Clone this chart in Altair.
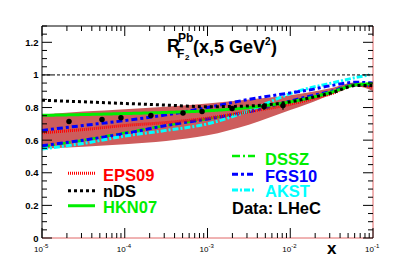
import altair as alt
import pandas as pd

# ---------------- data ----------------
X = [1e-5, 3.16e-5, 1e-4, 3.16e-4, 1e-3, 3.16e-3, 1e-2, 1.58e-2, 3.16e-2, 6.31e-2, 1e-1]
EPS09 = [0.645, 0.665, 0.690, 0.708, 0.735, 0.775, 0.820, 0.845, 0.885, 0.940, 0.925]
NDS = [0.845, 0.835, 0.825, 0.815, 0.805, 0.810, 0.835, 0.855, 0.890, 0.935, 0.935]
HKN07 = [0.752, 0.757, 0.763, 0.770, 0.780, 0.800, 0.835, 0.855, 0.895, 0.940, 0.945]
DSSZ = [0.560, 0.600, 0.645, 0.690, 0.730, 0.775, 0.830, 0.855, 0.890, 0.940, 0.945]
FGS10_L = [0.566, 0.600, 0.640, 0.690, 0.730, 0.775, 0.840, 0.865, 0.900, 0.940, 0.935]
FGS10_H = [0.660, 0.690, 0.720, 0.755, 0.800, 0.850, 0.890, 0.905, 0.935, 0.955, 0.950]
X_AKST = [1e-5, 3.16e-5, 1e-4, 3.16e-4, 1e-3, 3.16e-3, 1e-2, 1.58e-2, 3.16e-2, 6.31e-2, 9e-2]
AKST = [0.546, 0.580, 0.625, 0.660, 0.700, 0.780, 0.885, 0.915, 0.950, 0.985, 1.000]
BAND_LO = [0.548, 0.560, 0.575, 0.595, 0.630, 0.695, 0.785, 0.820, 0.880, 0.930, 0.900]
BAND_HI = [0.757, 0.775, 0.790, 0.805, 0.825, 0.850, 0.875, 0.890, 0.920, 0.955, 0.940]

PX = [2.12e-5, 5.31e-5, 9.0e-5, 2.07e-4, 5.06e-4, 8.59e-4, 1.98e-3, 4.82e-3, 8.17e-3]
PY = [0.714, 0.726, 0.738, 0.751, 0.766, 0.776, 0.794, 0.806, 0.812]
PERR = [0.006, 0.006, 0.007, 0.008, 0.010, 0.012, 0.015, 0.020, 0.025]

Y_TICKS = [0, 0.2, 0.4, 0.6, 0.8, 1, 1.2]
DECADES = [1e-5, 1e-4, 1e-3, 1e-2, 1e-1]
DEC_EXP = ["-5", "-4", "-3", "-2", "-1"]

W, H = 331, 212
FONT = "Liberation Sans"

xs = alt.Scale(type="log", domain=[1e-5, 1e-1], nice=False)
ys = alt.Scale(domain=[0, 1.3], nice=False, zero=False)
yaxis = alt.Axis(values=Y_TICKS, format="~g", labelFont=FONT, labelFontWeight="bold",
                 labelFontSize=9.5, labelColor="black", labelPadding=4, ticks=False,
                 tickSize=0, domain=False, grid=False, title="")


def xe(f):
    return alt.X(f + ":Q", scale=xs, axis=None)


def ye(f):
    return alt.Y(f + ":Q", scale=ys, axis=yaxis)


one = pd.DataFrame({"a": [0]})
layers = []

# band
band = pd.DataFrame({"x": X, "lo": BAND_LO, "hi": BAND_HI})
layers.append(alt.Chart(band).mark_area(color="#cd5c5c", interpolate="monotone").encode(
    x=xe("x"), y=ye("lo"), y2="hi:Q"))

series = [
    (X, DSSZ, "#00ee00", [8, 3, 2, 3], 2.5),
    (X, FGS10_L, "#0000ff", [6, 3, 3, 3], 3),
    (X_AKST, AKST, "#00ffff", [6, 2, 2, 2], 3),
    (X, FGS10_H, "#0000ff", [6, 3, 3, 3], 3),
    (X, EPS09, "#ff0000", [1, 1], 3),
    (X, HKN07, "#00ee00", [1, 0], 3),
    (X, NDS, "#000000", [3, 3], 3),
]
for xv, yv, col, dash, wdt in series:
    d = pd.DataFrame({"x": xv, "y": yv})
    layers.append(alt.Chart(d).mark_line(color=col, strokeDash=dash, strokeWidth=wdt,
                                         interpolate="monotone").encode(x=xe("x"), y=ye("y")))

# y = 1 dashed line
unity = pd.DataFrame({"x": [1e-5, 1e-1], "y": [1, 1]})
layers.append(alt.Chart(unity).mark_line(color="black", strokeDash=[3, 2], strokeWidth=1).encode(
    x=xe("x"), y=ye("y")))

# data points with error bars
pts = pd.DataFrame({"x": PX, "y": PY, "lo": [a - b for a, b in zip(PY, PERR)],
                    "hi": [a + b for a, b in zip(PY, PERR)]})
layers.append(alt.Chart(pts).mark_rule(color="black", strokeWidth=1.2).encode(
    x=xe("x"), y=ye("lo"), y2="hi:Q"))
layers.append(alt.Chart(pts).mark_point(filled=True, color="black", size=30, opacity=1).encode(
    x=xe("x"), y=ye("y")))

# frame
layers.append(alt.Chart(one).mark_rule(color="#e06666", strokeWidth=1).encode(
    x=alt.value(0), x2=alt.value(W), y=alt.value(H)))
layers.append(alt.Chart(one).mark_rule(color="#e06666", strokeWidth=1).encode(
    x=alt.value(W), y=alt.value(0), y2=alt.value(H)))
layers.append(alt.Chart(one).mark_rule(color="black", strokeWidth=1).encode(
    x=alt.value(0), y=alt.value(0), y2=alt.value(H)))
layers.append(alt.Chart(one).mark_rule(color="black", strokeWidth=1).encode(
    x=alt.value(0), x2=alt.value(W), y=alt.value(0)))

# ticks
xminor = [m * d for d in DECADES[:-1] for m in range(2, 10)]
ymajor = Y_TICKS
yminor = [round(0.05 * i, 2) for i in range(27) if i % 4 != 0]
dxM = pd.DataFrame({"x": DECADES})
dxm = pd.DataFrame({"x": xminor})
dyM = pd.DataFrame({"y": ymajor})
dym = pd.DataFrame({"y": yminor})
for df, ln in [(dxM, 10), (dxm, 5)]:
    layers.append(alt.Chart(df).mark_rule(color="black").encode(
        x=xe("x"), y=alt.value(H), y2=alt.value(H - ln)))
    layers.append(alt.Chart(df).mark_rule(color="black").encode(
        x=xe("x"), y=alt.value(0), y2=alt.value(ln)))
for df, ln in [(dyM, 10), (dym, 5)]:
    layers.append(alt.Chart(df).mark_rule(color="black").encode(
        y=ye("y"), x=alt.value(0), x2=alt.value(ln)))
    layers.append(alt.Chart(df).mark_rule(color="black").encode(
        y=ye("y"), x=alt.value(W), x2=alt.value(W - ln)))

# x tick labels 10^k
dl = pd.DataFrame({"x": DECADES, "t": ["10"] * 5, "e": DEC_EXP})
layers.append(alt.Chart(dl).mark_text(font=FONT, fontSize=8, align="right", baseline="alphabetic",
                                      color="black", dx=1).encode(
    x=xe("x"), y=alt.value(H + 14), text="t:N"))
layers.append(alt.Chart(dl).mark_text(font=FONT, fontSize=6, align="left", baseline="alphabetic",
                                      color="black", dx=1).encode(
    x=xe("x"), y=alt.value(H + 10), text="e:N"))


def txt(s, x, y, size, color="black", weight="bold"):
    return alt.Chart(pd.DataFrame({"t": [s]})).mark_text(
        font=FONT, fontSize=size, fontWeight=weight, align="left", baseline="alphabetic",
        color=color).encode(x=alt.value(x), y=alt.value(y), text="t:N")


# axis title
layers.append(txt("x", 285, 228, 17))

# title R^{Pb}_{F_2}(x,5 GeV^2)
layers.append(txt("R", 125, 26, 18))
layers.append(txt("Pb", 136, 16, 12))
layers.append(txt("F", 135, 32, 12))
layers.append(txt("2", 143, 34, 8))
layers.append(txt("(x,5 GeV", 151, 26.5, 18))
layers.append(txt("2", 223, 19, 10))
layers.append(txt(")", 229, 26.5, 18))

# legends
LEG = [
    ("EPS09", "#ff0000", [1, 1], 3, 26, 53, 147.3, 61, 155),
    ("nDS", "#000000", [3, 3], 3, 26, 53, 164.7, 61, 171),
    ("HKN07", "#00ee00", [1, 0], 3, 26, 53, 179.7, 61, 187),
    ("DSSZ", "#00ee00", [8, 3, 2, 3], 2.5, 190, 213, 130, 223, 139),
    ("FGS10", "#0000ff", [6, 3, 3, 3], 3, 190, 213, 148.3, 223, 155.7),
    ("AKST", "#00ffff", [6, 2, 2, 2], 3, 190, 213, 164, 223, 171),
]
for name, col, dash, wdt, x1, x2, yl, tx, ty in LEG:
    layers.append(alt.Chart(one).mark_rule(color=col, strokeDash=dash, strokeWidth=wdt).encode(
        x=alt.value(x1), x2=alt.value(x2), y=alt.value(yl)))
    layers.append(txt(name, tx, ty, 16.5, col))
layers.append(txt("Data: LHeC", 190, 188, 16.5))

chart = alt.layer(*layers).properties(
    width=W, height=H,
    padding={"left": 34, "top": 18, "right": 34, "bottom": 19},
    autosize=alt.AutoSizeParams(type="none"),
    background="white",
).configure_view(stroke=None)

chart.save("out.html", embed_options={"renderer": "svg", "actions": False})
